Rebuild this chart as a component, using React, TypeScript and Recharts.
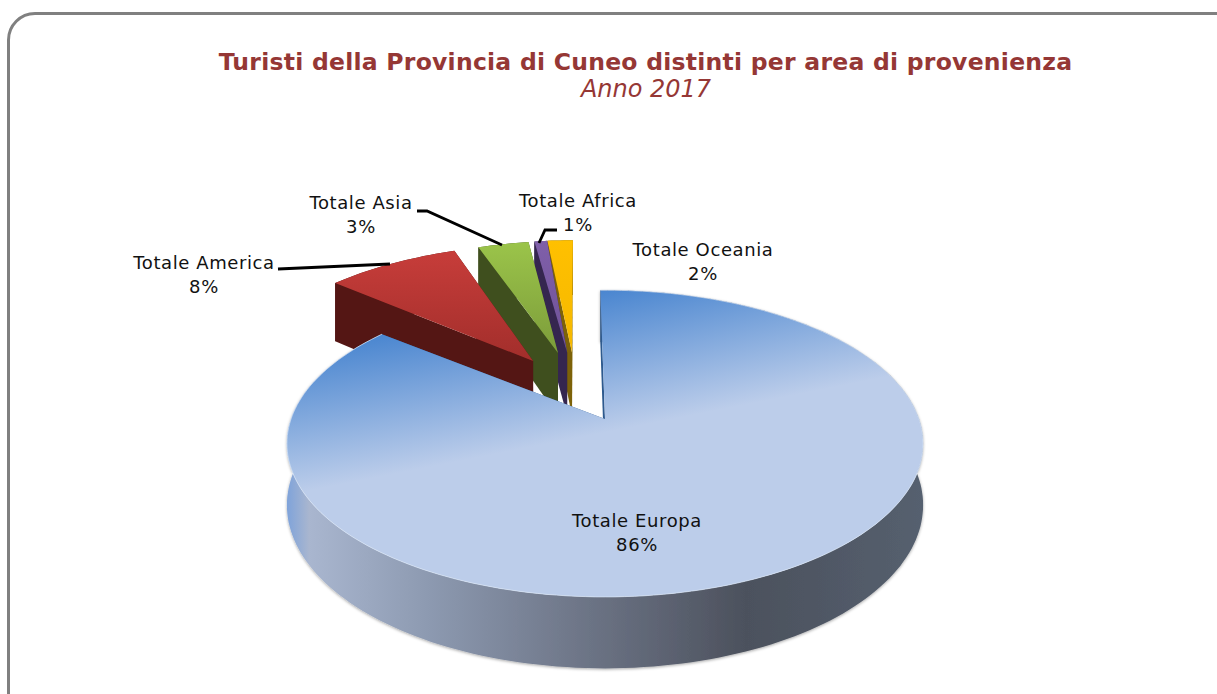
import React from "react";
import { PieChart, Pie } from "recharts";

const categories = ["Totale Oceania", "Totale Africa", "Totale Asia", "Totale America", "Totale Europa"];
const shares = [1.6, 0.8, 3.2, 8.4, 86];
const titleText = "Turisti della Provincia di Cuneo distinti per area di provenienza";
const subtitleText = "Anno 2017";

const rows = categories.map((name, i) => ({ name, value: shares[i] }));

const FONT = "'DejaVu Sans', Verdana, sans-serif";
const CX = 605;
const CY = 419;
const R = 314;
const SQUASH = 0.476;
const PERSP = 0.16;

type Look = {
  apex: [number, number];
  rim: [number, number];
  depth: number;
  top: [string, string];
  wall: string;
  label: [number, number];
  shown: string;
  leader?: [number, number][];
};

const looks: Record<string, Look> = {
  "Totale Oceania": { apex: [-0.113, 0.48], rim: [-0.109, 0.48], depth: 68, top: ["#ffc000", "#f5b800"], wall: "#7d6208", label: [703, 250], shown: "2%" },
  "Totale Africa": { apex: [-0.13, 0.48], rim: [-0.11, 0.48], depth: 68, top: ["#7f5fa9", "#6f5298"], wall: "#35264f", label: [578, 201], shown: "1%", leader: [[557, 230], [545, 230], [539, 243]] },
  "Totale Asia": { apex: [-0.161, 0.475], rim: [-0.133, 0.475], depth: 68, top: ["#9bc44a", "#7c9c3a"], wall: "#3f4f1e", label: [361, 203], shown: "3%", leader: [[417, 211], [427, 211], [502, 245]] },
  "Totale America": { apex: [-0.244, 0.414], rim: [-0.224, 0.44], depth: 68, top: ["#c73d3a", "#a22e2b"], wall: "#541614", label: [204, 263], shown: "8%", leader: [[278, 269], [390, 264]] },
  "Totale Europa": { apex: [0, 0], rim: [0, 0], depth: 60, top: ["#4a86d0", "#bccdea"], wall: "#2e5a8e", label: [637, 521], shown: "86%" },
};

function project(cx: number, cy: number, r: number, u: number, v: number, drop = 0): [number, number] {
  const w = 1 + PERSP * v;
  return [cx + (r * u) / w, cy - (r * SQUASH * v) / w + drop / w];
}
const toPath = (pts: [number, number][]) =>
  "M" + pts.map((p) => `${p[0].toFixed(1)},${p[1].toFixed(1)}`).join("L") + "Z";

function Slice3D(props: any) {
  const { cx, cy, outerRadius, startAngle, endAngle } = props;
  const name: string = props.name ?? props.payload?.name;
  const look = looks[name];
  const n = Math.max(6, Math.ceil(Math.abs(endAngle - startAngle) / 1.5));
  const arc: [number, number][] = [];
  for (let i = 0; i <= n; i++) {
    const a = ((startAngle + ((endAngle - startAngle) * i) / n) * Math.PI) / 180;
    arc.push([Math.cos(a) + look.rim[0], Math.sin(a) + look.rim[1]]);
  }
  const P = (u: number, v: number, d = 0) => project(cx, cy, outerRadius, u, v, d);
  const d = look.depth;
  const topArc = arc.map(([u, v]) => P(u, v));
  const lowArc = arc.map(([u, v]) => P(u, v, d));
  const apexTop = P(look.apex[0], look.apex[1]);
  const apexLow = P(look.apex[0], look.apex[1], d);
  const isMain = name === "Totale Europa";
  const gradId = "top" + name.replace(/\s/g, "");
  const first = arc[0];
  const last = arc[arc.length - 1];
  const faceGrad = isMain
    ? { x1: 600, y1: 291, x2: 627, y2: 428 }
    : { x1: cx, y1: Math.min(...topArc.map((p) => p[1])), x2: cx, y2: apexTop[1] };
  return (
    <g>
      <defs>
        <linearGradient id={gradId} gradientUnits="userSpaceOnUse" {...faceGrad}>
          <stop offset="0" stopColor={look.top[0]} />
          <stop offset="1" stopColor={look.top[1]} />
        </linearGradient>
      </defs>
      <path
        d={toPath([...topArc, ...[...lowArc].reverse()])}
        fill={isMain ? "url(#sideGrad)" : look.wall}
        filter={isMain ? "url(#softShadow)" : undefined}
      />
      <path d={toPath([apexTop, P(first[0], first[1]), P(first[0], first[1], d), apexLow])} fill={look.wall} />
      <path d={toPath([apexTop, P(last[0], last[1]), P(last[0], last[1], d), apexLow])} fill={look.wall} />
      <path d={toPath([apexTop, ...topArc])} fill={`url(#${gradId})`} />
      {isMain && (
        <path
          d={"M" + topArc.map((p) => `${p[0].toFixed(1)},${p[1].toFixed(1)}`).join("L")}
          fill="none"
          stroke="#d9e5f6"
          strokeWidth={1}
          strokeOpacity={0.7}
        />
      )}
    </g>
  );
}

function SliceLabel(props: any) {
  const name: string = props.name ?? props.payload?.name;
  const look = looks[name];
  const [x, y] = look.label;
  return (
    <g>
      {look.leader && (
        <polyline
          points={look.leader.map((p) => p.join(",")).join(" ")}
          fill="none"
          stroke="#000"
          strokeWidth={2.8}
        />
      )}
      <text x={x} y={y + 6} textAnchor="middle" fontFamily={FONT} fontSize={18} letterSpacing={0.6} fill="#111">
        {name}
      </text>
      <text x={x} y={y + 29.5} textAnchor="middle" fontFamily={FONT} fontSize={18} letterSpacing={0.6} fill="#111">
        {look.shown}
      </text>
    </g>
  );
}

export default function App() {
  return (
    <div style={{ position: "absolute", left: 0, top: 0, width: 1217, height: 694, overflow: "hidden", background: "#fff" }}>
      <div
        style={{
          position: "absolute",
          left: 7,
          top: 12,
          width: 1400,
          height: 900,
          border: "3px solid #808080",
          borderRadius: 28,
          boxSizing: "border-box",
        }}
      />
      <div style={{ position: "absolute", left: 0, top: 0 }}>
        <PieChart width={1217} height={694} margin={{ top: 0, right: 0, bottom: 0, left: 0 }}>
          <defs>
            <linearGradient id="sideGrad" gradientUnits="userSpaceOnUse" x1={287} y1={0} x2={924} y2={0}>
              <stop offset="0" stopColor="#7fa3da" />
              <stop offset="0.035" stopColor="#a9b6cf" />
              <stop offset="0.22" stopColor="#8d9ab1" />
              <stop offset="0.45" stopColor="#6f7789" />
              <stop offset="0.72" stopColor="#4c515d" />
              <stop offset="1" stopColor="#55606f" />
            </linearGradient>
            <filter id="softShadow" x="-5%" y="-5%" width="110%" height="115%">
              <feDropShadow dx="0" dy="1" stdDeviation="1.5" floodColor="#000" floodOpacity="0.35" />
            </filter>
          </defs>
          <Pie
            data={rows}
            dataKey="value"
            nameKey="name"
            cx={CX}
            cy={CY}
            outerRadius={R}
            innerRadius={0}
            startAngle={91}
            endAngle={451}
            stroke="none"
            isAnimationActive={false}
            shape={Slice3D as any}
            label={SliceLabel as any}
            labelLine={false}
          />
          <text x={645.5} y={70} textAnchor="middle" fontFamily={FONT} fontSize={23.5} letterSpacing={0.25} fontWeight="bold" fill="#953735">
            {titleText}
          </text>
          <text x={646} y={97} textAnchor="middle" fontFamily={FONT} fontSize={24} fontStyle="italic" fill="#953735">
            {subtitleText}
          </text>
        </PieChart>
      </div>
    </div>
  );
}
